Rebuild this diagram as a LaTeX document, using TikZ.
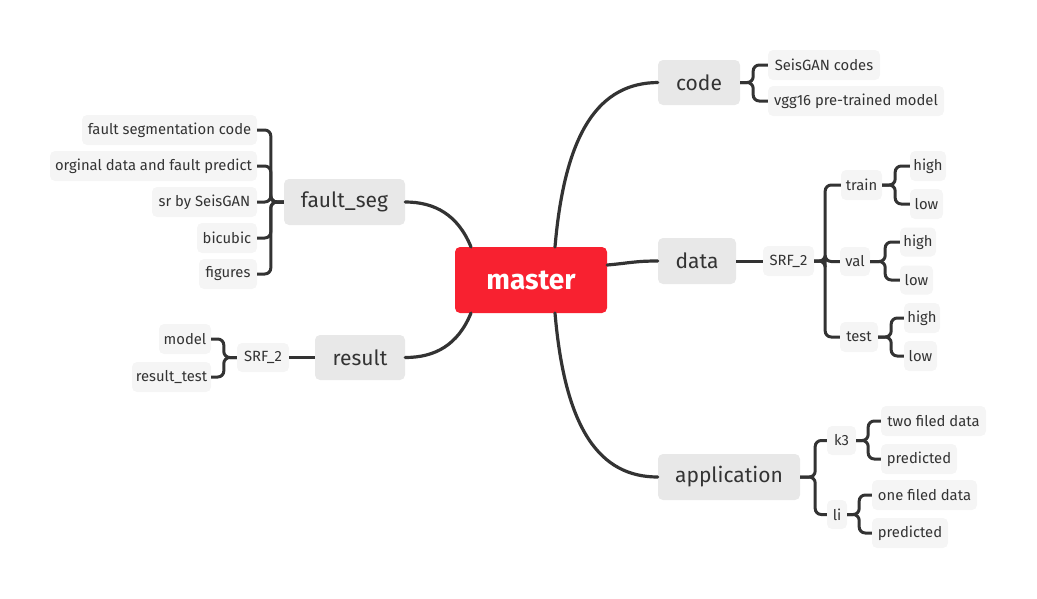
\documentclass[tikz,border=0pt]{standalone}
\usepackage{fontspec}
\setmainfont{Fira Sans}
\definecolor{rootred}{HTML}{F82130}
\definecolor{maingray}{HTML}{E8E8E8}
\definecolor{subgray}{HTML}{F5F5F5}
\definecolor{linec}{HTML}{333333}
\definecolor{textc}{HTML}{333333}
\tikzset{
  every node/.style={inner sep=0pt, rounded corners=5pt, text=textc},
  root/.style={fill=rootred, text=white, font=\fontsize{28}{32}\selectfont\bfseries},
  mainbox/.style={fill=maingray, font=\fontsize{21}{25}\selectfont},
  subbox/.style={fill=subgray, font=\fontsize{14.8}{17}\selectfont},
  conn/.style={draw=linec, line width=3.2pt, line cap=round},
  br/.style={draw=linec, line width=3pt, rounded corners=6pt},
}
\newcommand{\bx}[6]{\node[#1, minimum width=#2pt, minimum height=#3pt] (#4) at (#5) {#6};}
\begin{document}
\begin{tikzpicture}[x=1pt,y=-1pt]
\useasboundingbox (0,0) rectangle (1037,598);
% root
\bx{root}{152}{66}{m}{531,280}{master}
% main topics
\bx{mainbox}{82}{45}{code}{699,82.5}{code}
\bx{mainbox}{78}{46}{data}{697,261}{data}
\bx{mainbox}{142}{46}{app}{729,477}{application}
\bx{mainbox}{121}{46}{fs}{344.5,202}{fault\_seg}
\bx{mainbox}{90}{45}{res}{360,357.5}{result}
% code children
\bx{subbox}{112}{30}{sc}{824,65}{SeisGAN codes}
\bx{subbox}{176}{30}{vgg}{856,101}{vgg16 pre-trained model}
% data children
\bx{subbox}{51}{30}{srf}{788.5,261}{SRF\_2}
\bx{subbox}{41}{30}{train}{861.5,185}{train}
\bx{subbox}{36}{30}{h1}{928,166}{high}
\bx{subbox}{33}{30}{l1}{926.5,204}{low}
\bx{subbox}{30}{29}{val}{855,261.5}{val}
\bx{subbox}{36}{29}{h2}{918,242}{high}
\bx{subbox}{33}{29}{l2}{916.5,280}{low}
\bx{subbox}{38}{30}{test}{859,337}{test}
\bx{subbox}{36}{30}{h3}{922,318}{high}
\bx{subbox}{33}{30}{l3}{920.5,356}{low}
% application children
\bx{subbox}{29}{29}{k3}{841.5,440.5}{k3}
\bx{subbox}{105}{30}{tfd}{933.5,421}{two filed data}
\bx{subbox}{76}{30}{p1}{919,459}{predicted}
\bx{subbox}{20}{29}{li}{837,514.5}{li}
\bx{subbox}{105}{30}{ofd}{924.5,495}{one filed data}
\bx{subbox}{76}{30}{p2}{910,533}{predicted}
% fault_seg children
\bx{subbox}{175}{30}{f1}{169.5,130}{fault segmentation code}
\bx{subbox}{207}{30}{f2}{153.5,166}{orginal data and fault predict}
\bx{subbox}{105}{30}{f3}{204.5,202}{sr by SeisGAN}
\bx{subbox}{60}{30}{f4}{227,238}{bicubic}
\bx{subbox}{58}{30}{f5}{228,274}{figures}
% result children
\bx{subbox}{52}{29}{srfl}{263,357.5}{SRF\_2}
\bx{subbox}{52}{30}{model}{185,339}{model}
\bx{subbox}{79}{30}{rt}{171.5,377}{result\_test}
% main curves
\coordinate (mt) at (555,247);
\coordinate (mb) at (555,313);
\coordinate (mtl) at (471,247);
\coordinate (mbl) at (471,313);
\draw[conn] (mt) .. controls (565,130) and (600,83) .. (code.west);
\draw[conn] (mb) .. controls (565,430) and (600,477) .. (app.west);
\draw[conn] (m.east) ++(0,-15) .. controls (630,263) and (635,261) .. (data.west);
\draw[conn] (mtl) .. controls (458,215) and (435,202) .. (fs.east);
\draw[conn] (mbl) .. controls (458,345) and (435,357.5) .. (res.east);
% brackets
\foreach \c in {sc,vgg} \draw[br] (code.east) -- ++(13,0) |- (\c.west);
\draw[br] (data.east) -- (srf.west);
\foreach \c in {train,val,test} \draw[br] (srf.east) -- ++(11,0) |- (\c.west);
\foreach \c in {h1,l1} \draw[br] (train.east) -- ++(13,0) |- (\c.west);
\foreach \c in {h2,l2} \draw[br] (val.east) -- ++(15,0) |- (\c.west);
\foreach \c in {h3,l3} \draw[br] (test.east) -- ++(13,0) |- (\c.west);
\foreach \c in {k3,li} \draw[br] (app.east) -- ++(15,0) |- (\c.west);
\foreach \c in {tfd,p1} \draw[br] (k3.east) -- ++(12,0) |- (\c.west);
\foreach \c in {ofd,p2} \draw[br] (li.east) -- ++(12,0) |- (\c.west);
\foreach \c in {f1,f2,f3,f4,f5} \draw[br] (fs.west) -- ++(-13,0) |- (\c.east);
\draw[br] (res.west) -- (srfl.east);
\foreach \c in {model,rt} \draw[br] (srfl.west) -- ++(-13,0) |- (\c.east);
\end{tikzpicture}
\end{document}
